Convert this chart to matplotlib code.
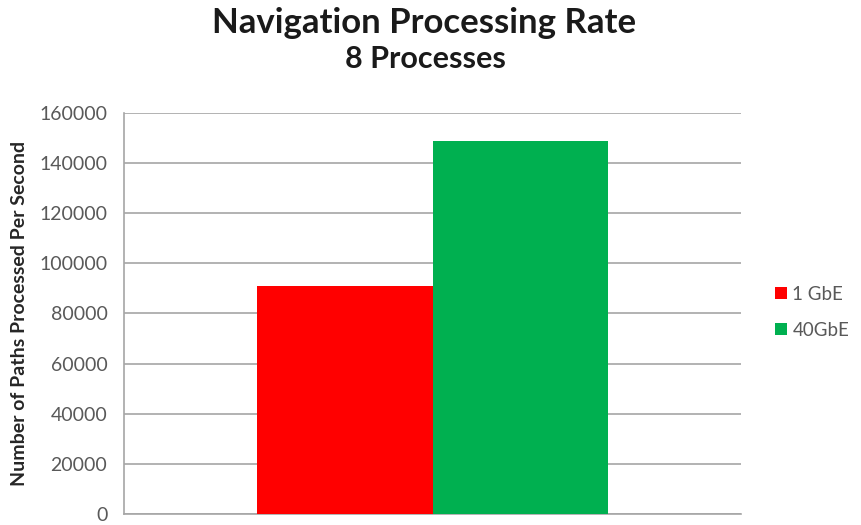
import numpy as np
import matplotlib.pyplot as plt

plt.rcParams['font.family'] = ['Lato', 'DejaVu Sans']

# data
series = ['1 GbE', '40GbE']
values = [91000, 149000]
colors = ['#ff0000', '#00b050']
yticks = np.arange(0, 160001, 20000)

fig = plt.figure(figsize=(8.62, 5.25), dpi=100)
ax = fig.add_axes([0.1439, 0.021, 0.7157, 0.7638])

bar_width = 0.285
offsets = [-bar_width / 2, bar_width / 2]
for name, val, col, off in zip(series, values, colors, offsets):
    ax.bar(off, val, bar_width, color=col, label=name, zorder=3)

ax.set_xlim(-0.5, 0.5)
ax.set_ylim(0, 160000)
ax.set_yticks(yticks)
ax.set_yticklabels([str(v) for v in yticks], fontsize=14, color='#595959')
ax.set_xticks([])
ax.tick_params(axis='y', length=0, pad=12)
ax.grid(axis='y', color='#a6a6a6', linewidth=1.2, zorder=0)
for s in ['top', 'right']:
    ax.spines[s].set_visible(False)
for s in ['left', 'bottom']:
    ax.spines[s].set_color('#a6a6a6')
    ax.spines[s].set_linewidth(1.2)

ax.set_ylabel('Number of Paths Processed Per Second', fontsize=14,
              fontweight='bold', color='#262626')
ax.yaxis.set_label_coords(-0.155, 0.5)

fig.text(0.492, 0.937, 'Navigation Processing Rate', ha='center', va='baseline',
         fontsize=25, fontweight='bold', color='#1a1a1a')
fig.text(0.493, 0.870, '8 Processes', ha='center', va='baseline',
         fontsize=22, fontweight='bold', color='#1a1a1a')

fig.legend(loc='center left', bbox_to_anchor=(0.88, 0.405), frameon=False,
           fontsize=13.5, handlelength=0.6, handleheight=0.6, handletextpad=0.3,
           labelspacing=1.0, labelcolor='#595959')

fig.savefig('out.png', dpi=100)
